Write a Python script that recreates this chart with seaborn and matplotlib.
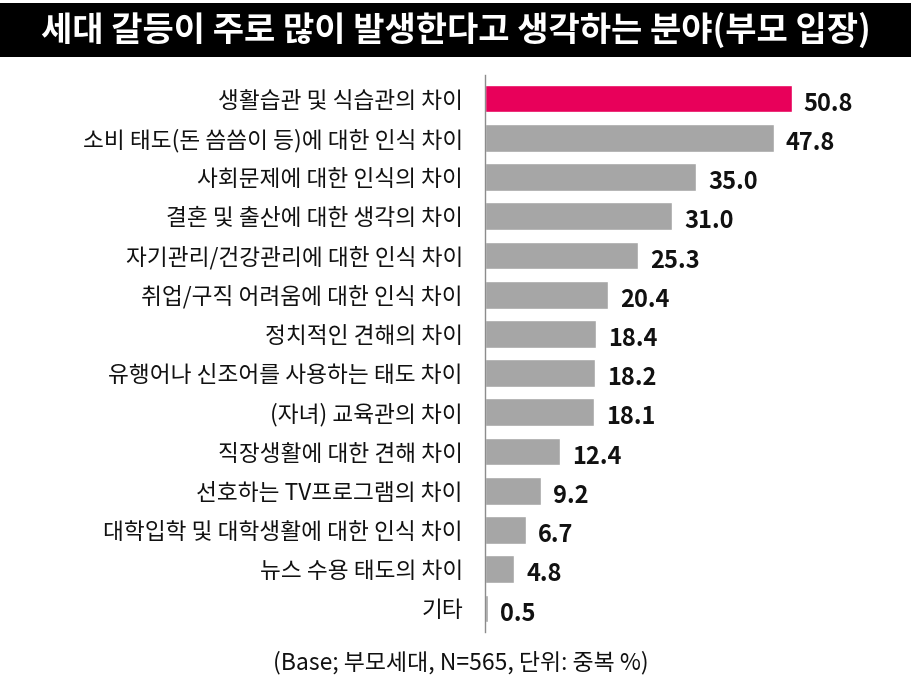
import pandas as pd
import numpy as np
import matplotlib.pyplot as plt
import seaborn as sns
from matplotlib.patches import Rectangle

categories = ["생활습관 및 식습관의 차이", "소비 태도(돈 씀씀이 등)에 대한 인식 차이",
              "사회문제에 대한 인식의 차이", "결혼 및 출산에 대한 생각의 차이",
              "자기관리/건강관리에 대한 인식 차이", "취업/구직 어려움에 대한 인식 차이",
              "정치적인 견해의 차이", "유행어나 신조어를 사용하는 태도 차이",
              "(자녀) 교육관의 차이", "직장생활에 대한 견해 차이",
              "선호하는 TV프로그램의 차이", "대학입학 및 대학생활에 대한 인식 차이",
              "뉴스 수용 태도의 차이", "기타"]
values = [50.8, 47.8, 35.0, 31.0, 25.3, 20.4, 18.4, 18.2, 18.1, 12.4, 9.2, 6.7, 4.8, 0.5]
highlight = ["top"] + ["rest"] * 13

df = pd.DataFrame({"분야": categories, "값": values, "group": highlight})

sns.set_style("white")
plt.rcParams['font.family'] = ['Noto Sans CJK KR', 'DejaVu Sans']

fig = plt.figure(figsize=(9.12, 6.92), dpi=100)
ax = fig.add_axes([0.532, 0.0867, 0.42, 0.8049])

sns.barplot(data=df, y="분야", x="값", hue="group", orient="h",
            palette={"top": "#E8005A", "rest": "#A6A6A6"}, saturation=1,
            dodge=False, legend=False, width=0.71, ax=ax)

ax.set_xlim(0, 63.5)
ax.set_ylim(13.6, -0.6)
ax.set_xlabel("")
ax.set_ylabel("")
ax.set_xticks([])
for s in ["top", "right", "bottom"]:
    ax.spines[s].set_visible(False)
ax.spines["left"].set_color("#8c8c8c")
ax.spines["left"].set_linewidth(1.0)
ax.tick_params(axis="y", length=0, pad=16, labelsize=16.3)
for lbl in ax.get_yticklabels():
    lbl.set_fontweight("medium")
    lbl.set_color("#111111")

# value labels
for i, v in enumerate(values):
    ax.text(v + 2.0, i + 0.13, f"{v:.1f}", va="center", ha="left",
            fontsize=17, fontweight="bold", color="#111111")

# title bar
fig.patches.append(Rectangle((0, 1 - 57 / 692), 1, 54 / 692, transform=fig.transFigure,
                             facecolor="black", edgecolor="none", zorder=0))
fig.text(0.5, 1 - 30 / 692, "세대 갈등이 주로 많이 발생한다고 생각하는 분야(부모 입장)",
         ha="center", va="center", color="white", fontsize=24.5, fontweight="bold")

fig.text(0.505, 1 - 663 / 692, "(Base; 부모세대, N=565, 단위: 중복 %)",
         ha="center", va="center", fontsize=16.5, fontweight="medium", color="#111111")

plt.savefig("out.png", dpi=100)
